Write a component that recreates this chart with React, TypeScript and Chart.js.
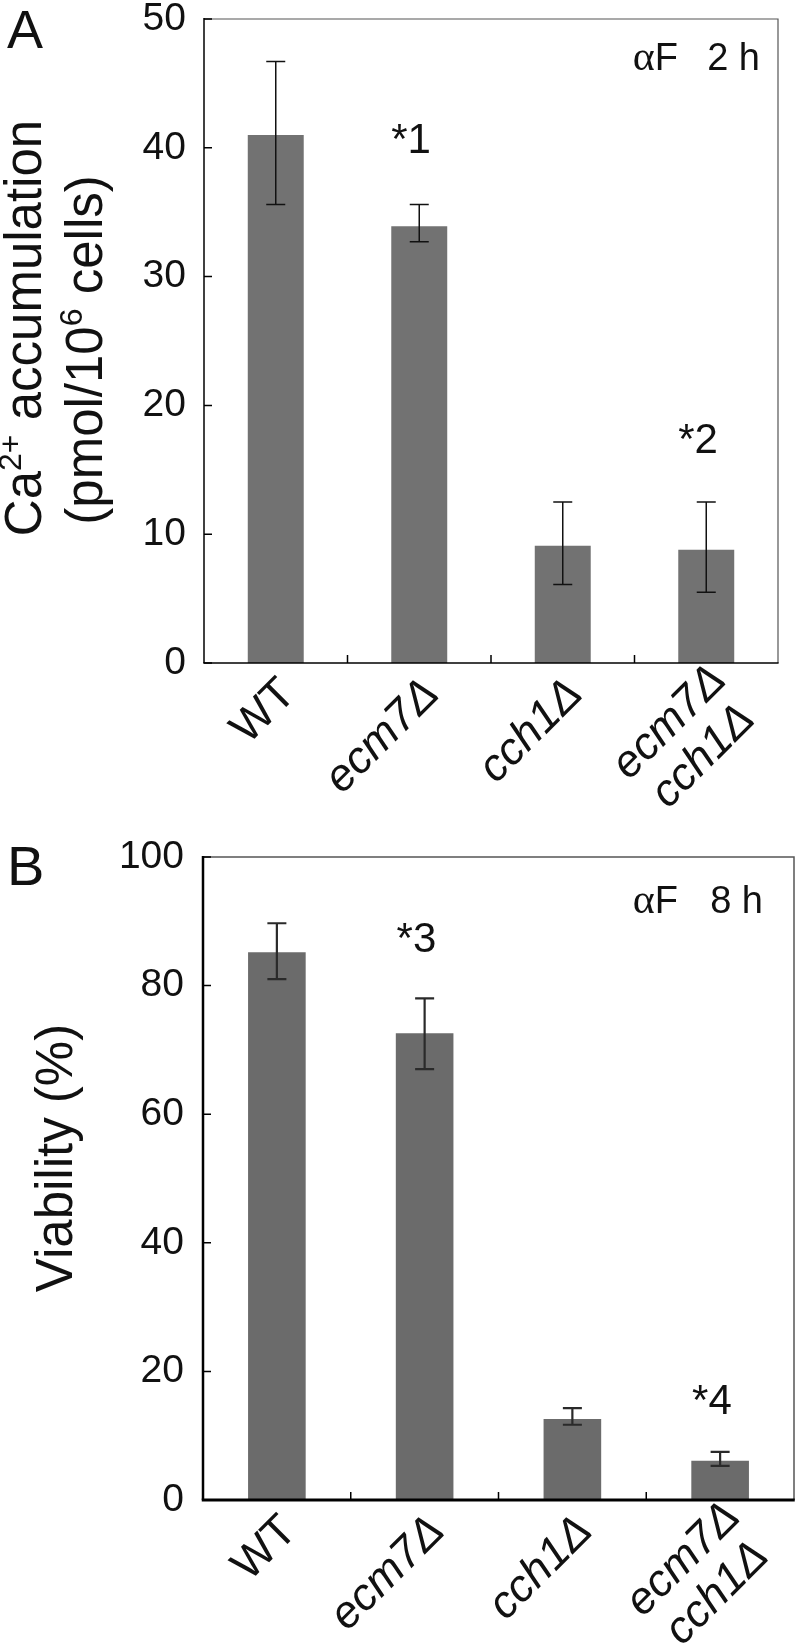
import React, { useEffect, useRef } from "react";
import { Chart, registerables } from "chart.js";

Chart.register(...registerables);

// ---------- data ----------
const categories = ["WT", "ecm7Δ", "cch1Δ", "ecm7Δ cch1Δ"];
const categoryLines = [["WT"], ["ecm7Δ"], ["cch1Δ"], ["ecm7Δ", "cch1Δ"]];
const categoryItalic = [false, true, true, true];

// Panel A: Ca2+ accumulation (pmol/10^6 cells), alpha-factor 2 h
const caValues = [41.0, 33.9, 9.1, 8.8];
const caErrLow = [35.6, 32.7, 6.1, 5.5];
const caErrHigh = [46.7, 35.6, 12.5, 12.5];
const caMarkText = ["", "*1", "", "*2"];
const caMarkValue = [0, 40.8, 0, 17.5];
const caAxisMax = 50;
const caAxisStep = 10;

// Panel B: Viability (%), alpha-factor 8 h
const viaValues = [85.2, 72.6, 12.6, 6.1];
const viaErrLow = [81.0, 67.0, 11.7, 5.3];
const viaErrHigh = [89.7, 78.0, 14.3, 7.5];
const viaMarkText = ["", "*3", "", "*4"];
const viaMarkValue = [0, 87.5, 0, 15.7];
const viaAxisMax = 100;
const viaAxisStep = 20;

const SANS = "'Liberation Sans', Arial, Helvetica, sans-serif";
const SERIF = "'Liberation Serif', 'Times New Roman', serif";

type Seg = { t: string; sup?: boolean };

type PanelCfg = {
  values: number[];
  errLow: number[];
  errHigh: number[];
  markText: string[];
  markValue: number[];
  yMax: number;
  yStep: number;
  canvasH: number;
  padTop: number;
  padRight: number;
  yWidth: number;
  xHeight: number;
  tickPad: number;
  barColor: string;
  letter: string;
  letterSize: number;
  letterBaseline: number;
  condAlpha: string;
  condRest: string;
  condBaseline: number;
  condFRight: number;
  condRight: number;
  titleLines: Seg[][];
  titleBaselines: number[];
  titleCenters: number[];
  titleSize: number;
  axisW: number;
  bottomW: number;
  edgeW: number;
  errW: number;
  errColor: string;
};

function drawRich(
  ctx: CanvasRenderingContext2D,
  segs: Seg[],
  baselineX: number,
  cy: number,
  size: number
) {
  const fontFor = (s: Seg) => `${s.sup ? Math.round(size * 0.62) : size}px ${SANS}`;
  let total = 0;
  const widths = segs.map((s) => {
    ctx.font = fontFor(s);
    const w = ctx.measureText(s.t).width;
    total += w;
    return w;
  });
  ctx.save();
  ctx.translate(baselineX, cy);
  ctx.rotate(-Math.PI / 2);
  ctx.textAlign = "left";
  ctx.textBaseline = "alphabetic";
  let x = -total / 2;
  segs.forEach((s, i) => {
    ctx.font = fontFor(s);
    ctx.fillText(s.t, x, s.sup ? -size * 0.4 : 0);
    x += widths[i];
  });
  ctx.restore();
}

function makeDecor(p: PanelCfg) {
  return {
    id: "panelDecor",
    afterDraw(chart: any) {
      const ctx: CanvasRenderingContext2D = chart.ctx;
      const { left, right, top, bottom } = chart.chartArea;
      const xs = chart.scales.x;
      const ys = chart.scales.y;
      ctx.save();

      // error bars
      ctx.strokeStyle = p.errColor;
      ctx.lineWidth = p.errW;
      const capHalf = 9.5;
      p.values.forEach((_v, i) => {
        const x = xs.getPixelForValue(i);
        const y1 = ys.getPixelForValue(p.errLow[i]);
        const y2 = ys.getPixelForValue(p.errHigh[i]);
        ctx.beginPath();
        ctx.moveTo(x, y1);
        ctx.lineTo(x, y2);
        ctx.moveTo(x - capHalf, y1);
        ctx.lineTo(x + capHalf, y1);
        ctx.moveTo(x - capHalf, y2);
        ctx.lineTo(x + capHalf, y2);
        ctx.stroke();
      });

      // frame: top & right (thin gray)
      ctx.strokeStyle = "#555";
      ctx.lineWidth = p.edgeW;
      ctx.beginPath();
      ctx.moveTo(left, top);
      ctx.lineTo(right, top);
      ctx.lineTo(right, bottom);
      ctx.stroke();
      // left axis
      ctx.strokeStyle = "#000";
      ctx.lineWidth = p.axisW;
      ctx.beginPath();
      ctx.moveTo(left, top - 1);
      ctx.lineTo(left, bottom);
      ctx.stroke();
      // bottom axis
      ctx.lineWidth = p.bottomW;
      ctx.beginPath();
      ctx.moveTo(left - p.axisW / 2, bottom);
      ctx.lineTo(right + p.edgeW / 2, bottom);
      ctx.stroke();
      // y ticks (inward)
      ctx.lineWidth = 1.5;
      ctx.beginPath();
      ys.ticks.forEach((t: any) => {
        const y = ys.getPixelForValue(t.value);
        ctx.moveTo(left, y);
        ctx.lineTo(left + 8, y);
      });
      // x ticks at category boundaries (inward)
      for (let i = 1; i < p.values.length; i++) {
        const x = (xs.getPixelForValue(i - 1) + xs.getPixelForValue(i)) / 2;
        ctx.moveTo(x, bottom);
        ctx.lineTo(x, bottom - 8);
      }
      ctx.stroke();

      ctx.fillStyle = "#111";
      // significance marks
      const mSize = 42;
      ctx.font = `${mSize}px ${SANS}`;
      ctx.textAlign = "right";
      ctx.textBaseline = "alphabetic";
      p.markText.forEach((m, i) => {
        if (!m) return;
        const x = xs.getPixelForValue(i);
        const y = ys.getPixelForValue(p.markValue[i]);
        const dw = ctx.measureText(m.slice(1)).width;
        ctx.fillText(m, x + dw / 2, y + mSize * 0.358);
      });

      // x category labels (rotated 45deg)
      const lSize = 45;
      const lineGap = 48;
      categoryLines.forEach((lines, i) => {
        ctx.font = `${categoryItalic[i] ? "italic " : ""}${lSize}px ${SANS}`;
        const cx = xs.getPixelForValue(i);
        const W = Math.max(...lines.map((l) => ctx.measureText(l).width));
        const dy = lines.length > 1 ? 10 : 24;
        ctx.save();
        ctx.translate(cx + 13, bottom + dy);
        ctx.rotate(-Math.PI / 4);
        ctx.textAlign = "center";
        ctx.textBaseline = "middle";
        lines.forEach((l, k) => ctx.fillText(l, -W / 2, k * lineGap));
        ctx.restore();
      });

      // y axis title
      p.titleLines.forEach((segs, k) =>
        drawRich(ctx, segs, p.titleBaselines[k], p.titleCenters[k], p.titleSize)
      );

      // panel letter
      ctx.font = `${p.letterSize}px ${SANS}`;
      ctx.textAlign = "left";
      ctx.textBaseline = "alphabetic";
      ctx.fillText(p.letter, 7, p.letterBaseline);

      // condition label (alpha-factor time)
      ctx.textAlign = "right";
      ctx.font = `38px ${SANS}`;
      ctx.fillText(p.condRest, p.condRight, p.condBaseline);
      ctx.fillText("F", p.condFRight, p.condBaseline);
      const fW = ctx.measureText("F").width;
      ctx.font = `42px ${SERIF}`;
      ctx.fillText(p.condAlpha, p.condFRight - fW, p.condBaseline);

      ctx.restore();
    },
  };
}

function Panel({ cfg }: { cfg: PanelCfg }) {
  const ref = useRef<HTMLCanvasElement | null>(null);
  useEffect(() => {
    if (!ref.current) return;
    const chart = new Chart(ref.current, {
      type: "bar",
      data: {
        labels: categories,
        datasets: [
          {
            data: cfg.values,
            backgroundColor: cfg.barColor,
            borderColor: cfg.barColor,
            borderWidth: 0,
            barPercentage: 0.39,
            categoryPercentage: 1.0,
          },
        ],
      },
      options: {
        responsive: false,
        maintainAspectRatio: false,
        animation: false,
        devicePixelRatio: 1,
        layout: { padding: { top: cfg.padTop, right: cfg.padRight, left: 0, bottom: 0 } },
        plugins: {
          legend: { display: false },
          tooltip: { enabled: false },
          title: { display: false },
        },
        scales: {
          x: {
            type: "category",
            offset: true,
            grid: { display: false, drawTicks: false },
            border: { display: false },
            ticks: { display: false },
            afterFit: (s: any) => {
              s.height = cfg.xHeight;
              s.paddingLeft = 0;
              s.paddingRight = 0;
            },
          },
          y: {
            min: 0,
            max: cfg.yMax,
            grid: { display: false, drawTicks: false },
            border: { display: false },
            ticks: {
              stepSize: cfg.yStep,
              padding: cfg.tickPad,
              color: "#111",
              font: { family: SANS, size: 39 },
            },
            afterFit: (s: any) => {
              s.width = cfg.yWidth;
              s.paddingTop = 0;
              s.paddingBottom = 0;
            },
          },
        },
      } as any,
      plugins: [makeDecor(cfg)],
    });
    return () => chart.destroy();
  }, [cfg]);
  return (
    <canvas
      ref={ref}
      width={800}
      height={cfg.canvasH}
      style={{ display: "block", width: 800, height: cfg.canvasH }}
    />
  );
}

const panelA: PanelCfg = {
  values: caValues,
  errLow: caErrLow,
  errHigh: caErrHigh,
  markText: caMarkText,
  markValue: caMarkValue,
  yMax: caAxisMax,
  yStep: caAxisStep,
  canvasH: 830,
  padTop: 19,
  padRight: 22,
  yWidth: 204,
  xHeight: 167,
  tickPad: 18,
  barColor: "#727272",
  letter: "A",
  letterSize: 54,
  letterBaseline: 48,
  condAlpha: "α",
  condRest: "2 h",
  condBaseline: 70,
  condFRight: 678,
  condRight: 760,
  titleLines: [
    [{ t: "Ca" }, { t: "2+", sup: true }, { t: " accumulation" }],
    [{ t: "(pmol/10" }, { t: "6", sup: true }, { t: " cells)" }],
  ],
  titleBaselines: [41, 102],
  titleCenters: [328, 350],
  titleSize: 51,
  axisW: 1.5,
  bottomW: 1.5,
  edgeW: 1.2,
  errW: 1.5,
  errColor: "#111",
};

const panelB: PanelCfg = {
  values: viaValues,
  errLow: viaErrLow,
  errHigh: viaErrHigh,
  markText: viaMarkText,
  markValue: viaMarkValue,
  yMax: viaAxisMax,
  yStep: viaAxisStep,
  canvasH: 819,
  padTop: 27,
  padRight: 6,
  yWidth: 203,
  xHeight: 149,
  tickPad: 19,
  barColor: "#6b6b6b",
  letter: "B",
  letterSize: 56,
  letterBaseline: 55,
  condAlpha: "α",
  condRest: "8 h",
  condBaseline: 83,
  condFRight: 678,
  condRight: 763,
  titleLines: [[{ t: "Viability (%)" }]],
  titleBaselines: [72],
  titleCenters: [328],
  titleSize: 51,
  axisW: 2.5,
  bottomW: 3,
  edgeW: 1.5,
  errW: 2.2,
  errColor: "#2a2a2a",
};

export default function App() {
  return (
    <div
      style={{
        position: "absolute",
        left: 0,
        top: 0,
        width: 800,
        height: 1649,
        background: "#fff",
      }}
    >
      <Panel cfg={panelA} />
      <Panel cfg={panelB} />
    </div>
  );
}
